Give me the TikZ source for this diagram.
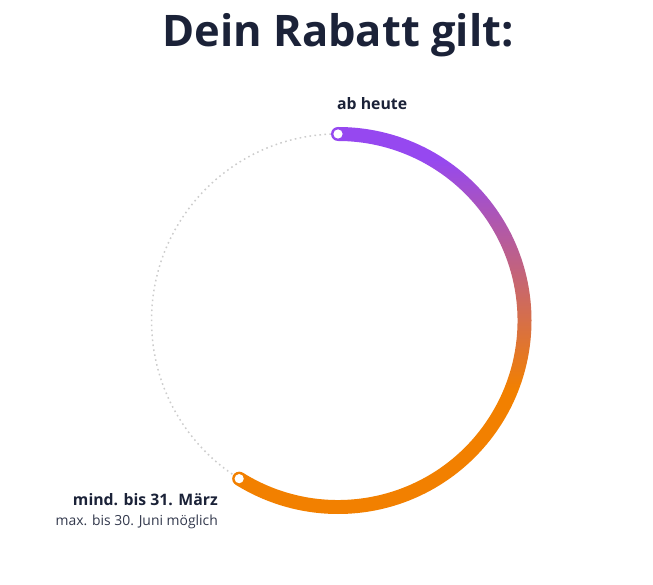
\documentclass[tikz,border=0pt]{standalone}
\usepackage{fontspec}
\usetikzlibrary{calc}
\setmainfont{Open Sans}
\definecolor{navy}{HTML}{1B2238}
\definecolor{arcpurple}{HTML}{9648F0}
\definecolor{arcorange}{HTML}{F28000}
\definecolor{dotgray}{HTML}{CCCCCC}
\pgfdeclareverticalshading{arcshade}{100bp}{color(0bp)=(arcorange); color(42bp)=(arcorange); color(71bp)=(arcpurple); color(100bp)=(arcpurple)}
\tikzset{
  titletext/.style={inner sep=0pt, text=navy, font=\fontsize{43.5}{50}\selectfont\bfseries},
  labelbold/.style={inner sep=0pt, text=navy, font=\fontsize{15.8}{18}\selectfont\bfseries},
  labelsmall/.style={inner sep=0pt, text=navy!90, font=\fontsize{13.9}{16}\selectfont},
  marker/.style={fill=white, draw=none},
}
\begin{document}
\begin{tikzpicture}[x=1pt,y=1pt]
\useasboundingbox (0,0) rectangle (653,584);
\coordinate (C) at (338,263.5);
% dotted full circle
\draw[dotgray, line width=1.5pt, dash pattern=on 1.6pt off 3.4pt] (C) circle[radius=186.5];
% gradient arc
\shade[shading=arcshade, shift={(C)}] (90:193.5) arc[start angle=90, end angle=-122, radius=193.5] -- (-122:179.5) arc[start angle=-122, end angle=90, radius=179.5] -- cycle;
\coordinate (S) at ($(C)+(90:186.5)$);
\coordinate (E) at ($(C)+(-122:186.5)$);
\fill[arcpurple] (S) circle[radius=7];
\fill[arcorange] (E) circle[radius=7];
\fill[marker] (S) circle[radius=4.6];
\fill[marker] (E) circle[radius=4.6];
% texts
\node[titletext, anchor=base] (title) at (338,537) {Dein Rabatt gilt:};
\node[labelbold, anchor=base west] (start) at (337,474) {ab heute};
\node[labelbold, anchor=base east] (end) at (218,79) {mind. bis 31. März};
\node[labelsmall, anchor=base east] (endsub) at (218,59) {max. bis 30. Juni möglich};
\end{tikzpicture}
\end{document}
